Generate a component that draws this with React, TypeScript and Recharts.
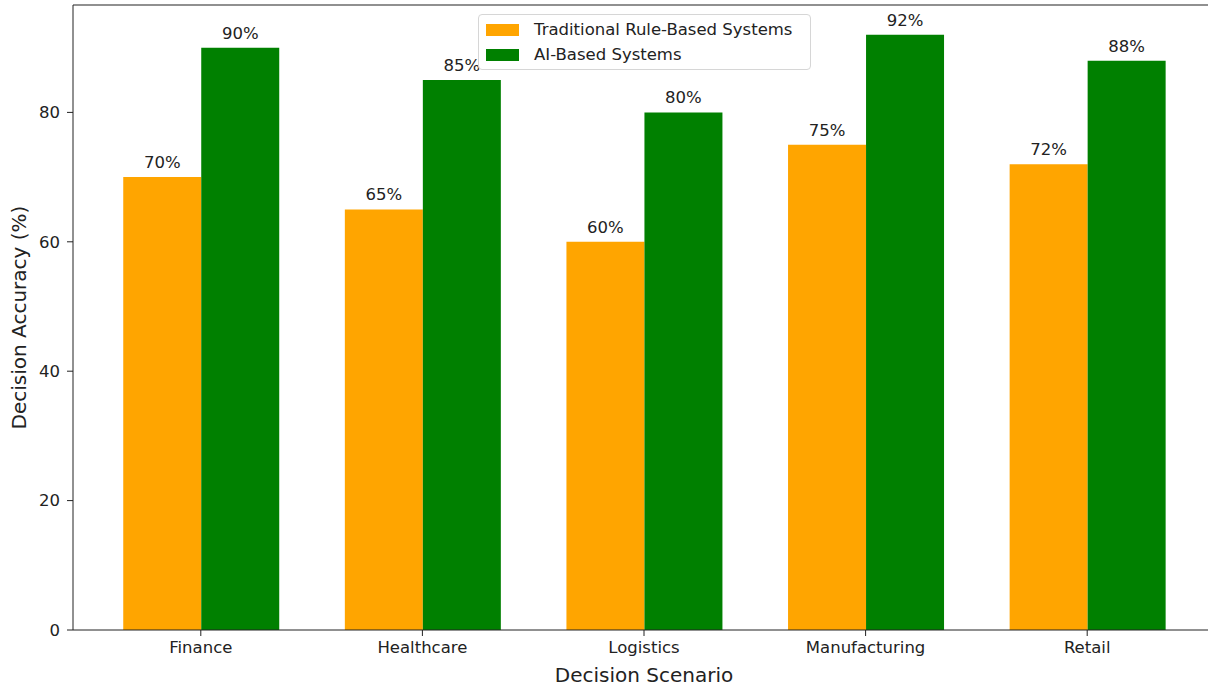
import { Bar, BarChart, LabelList, Legend, ReferenceLine, XAxis, YAxis } from "recharts";

const categories = ["Finance", "Healthcare", "Logistics", "Manufacturing", "Retail"];
const traditional = [70, 65, 60, 75, 72];
const aiBased = [90, 85, 80, 92, 88];
const yTicks = [0, 20, 40, 60, 80];
const yMax = 96.6;

const seriesNames = ["Traditional Rule-Based Systems", "AI-Based Systems"];
const seriesColors = ["#FFA500", "#008000"];

const data = categories.map((c, i) => ({
    name: c,
    traditional: traditional[i],
    ai: aiBased[i],
}));

const textColor = "#222";
const font = "'DejaVu Sans', sans-serif";

function LegendBox() {
    return (
        <div style={{
            width: 333, height: 56, boxSizing: 'border-box', border: '1px solid #d6d6d6',
            borderRadius: 4, background: 'rgba(255,255,255,0.85)', fontFamily: font,
            fontSize: 16.5, color: textColor, paddingTop: 2,
        }}>
            {seriesNames.map((n, i) => (
                <div key={n} style={{ display: 'flex', alignItems: 'center', height: 25 }}>
                    <span style={{ display: 'inline-block', width: 33, height: 12, marginLeft: 7, marginRight: 15, background: seriesColors[i] }} />
                    <span>{n}</span>
                </div>
            ))}
        </div>
    );
}

function YLabel(props: any) {
    const vb = props.viewBox;
    const x = vb.x + 19;
    const y = vb.y + vb.height / 2;
    return (
        <text x={x} y={y} transform={`rotate(-90 ${x} ${y})`} textAnchor="middle" dominantBaseline="central"
            fontSize={20} fill={textColor} fontFamily={font}>
            Decision Accuracy (%)
        </text>
    );
}

export default function App() {
    return (
        <div style={{ position: 'absolute', left: 0, top: 0, width: 1208, height: 686, overflow: 'hidden', background: '#fff' }}>
            <BarChart width={1220} height={686} data={data} margin={{ top: 5, right: 5, left: 0, bottom: 0 }}
                barCategoryGap="15%" barGap={0} style={{ fontFamily: font }}>
                <XAxis
                    dataKey="name"
                    height={56}
                    padding={{ left: 17, right: 17 }}
                    tickSize={6}
                    tickMargin={5}
                    axisLine={{ stroke: textColor }}
                    tickLine={{ stroke: textColor }}
                    tick={{ fontSize: 16.5, fill: textColor }}
                    label={{ value: 'Decision Scenario', position: 'insideBottom', offset: 4, fontSize: 20, fill: textColor }}
                />
                <YAxis
                    width={73}
                    domain={[0, yMax]}
                    ticks={yTicks}
                    tickSize={6}
                    tickMargin={7}
                    axisLine={{ stroke: textColor }}
                    tickLine={{ stroke: textColor }}
                    tick={{ fontSize: 16.5, fill: textColor }}
                    label={<YLabel />}
                />
                <ReferenceLine y={yMax} stroke={textColor} strokeWidth={1.2} />
                <Legend
                    layout="horizontal"
                    verticalAlign="middle"
                    align="center"
                    content={() => <LegendBox />}
                    wrapperStyle={{ position: 'absolute', left: 478, top: 14, width: 333, height: 56 }}
                />
                <Bar dataKey="traditional" name={seriesNames[0]} fill={seriesColors[0]} isAnimationActive={false}>
                    <LabelList dataKey="traditional" position="top" offset={9} formatter={(v: any) => `${v}%`}
                        style={{ fontSize: 16.5, fill: textColor }} />
                </Bar>
                <Bar dataKey="ai" name={seriesNames[1]} fill={seriesColors[1]} isAnimationActive={false}>
                    <LabelList dataKey="ai" position="top" offset={9} formatter={(v: any) => `${v}%`}
                        style={{ fontSize: 16.5, fill: textColor }} />
                </Bar>
            </BarChart>
        </div>
    );
}
